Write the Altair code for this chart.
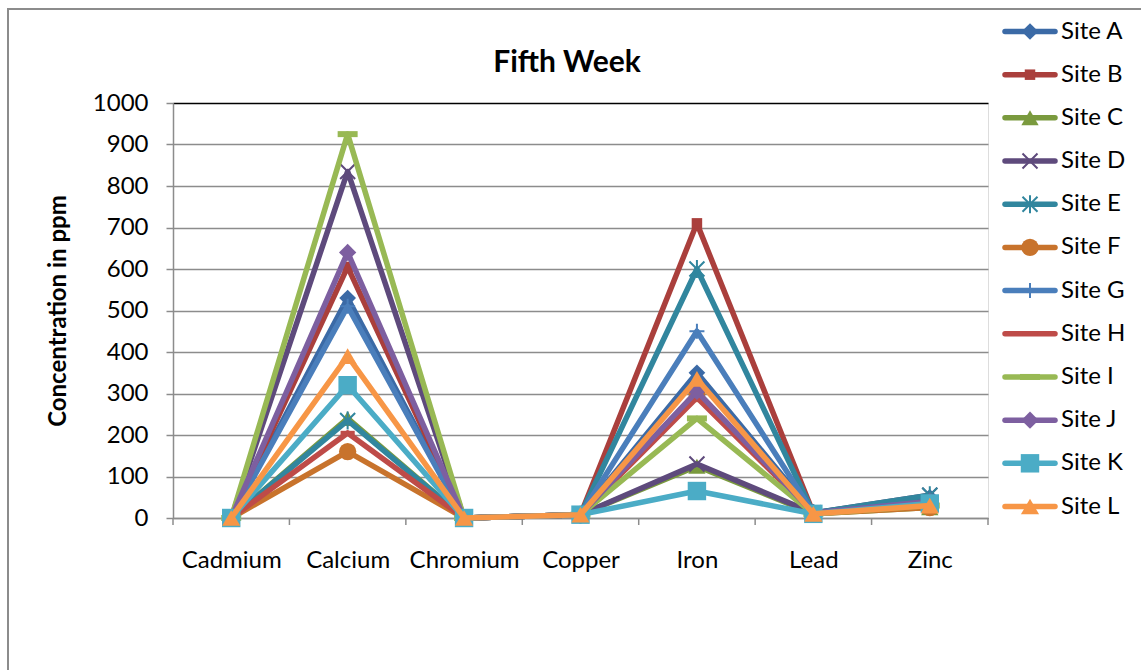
import altair as alt
import pandas as pd

# Categories and series (concentration in ppm, fifth week)
metals = ["Cadmium", "Calcium", "Chromium", "Copper", "Iron", "Lead", "Zinc"]
sites = ["Site A", "Site B", "Site C", "Site D", "Site E", "Site F",
         "Site G", "Site H", "Site I", "Site J", "Site K", "Site L"]

site_a = [0, 530, 0, 8, 350, 12, 50]
site_b = [0, 605, 0, 8, 710, 12, 30]
site_c = [0, 240, 0, 8, 125, 10, 25]
site_d = [0, 835, 0, 8, 130, 12, 55]
site_e = [0, 235, 0, 8, 600, 12, 55]
site_f = [0, 160, 0, 8, 300, 10, 25]
site_g = [0, 510, 0, 8, 450, 12, 40]
site_h = [0, 205, 0, 8, 290, 12, 30]
site_i = [0, 925, 0, 8, 240, 10, 30]
site_j = [0, 640, 0, 8, 305, 12, 40]
site_k = [0, 320, 0, 8, 65, 10, 35]
site_l = [0, 390, 0, 8, 335, 10, 30]

y_ticks = list(range(0, 1001, 100))
chart_title = "Fifth Week"

series = [site_a, site_b, site_c, site_d, site_e, site_f,
          site_g, site_h, site_i, site_j, site_k, site_l]

colors = ["#3B6AA6", "#AA3F3C", "#7A9A3E", "#5E4A7C", "#31869E", "#C8732C",
          "#4A7EBB", "#BE4B48", "#98B954", "#7D5FA0", "#4BACC6", "#F79646"]

X_PATH = "M-1,-1L1,1M-1,1L1,-1"
STAR_PATH = "M-1,-1L1,1M-1,1L1,-1M0,-1.2L0,1.2"
PLUS_PATH = "M-1,0L1,0M0,-1L0,1"
DASH_PATH = "M-1,-0.3L1,-0.3L1,0.3L-1,0.3Z"

# marker: (shape, size, filled)
markers = [
    ("diamond", 280, True),
    ("square", 110, True),
    ("triangle-up", 300, True),
    (X_PATH, 225, False),
    (STAR_PATH, 225, False),
    ("circle", 300, True),
    (PLUS_PATH, 225, False),
    (DASH_PATH, 200, True),
    (DASH_PATH, 400, True),
    ("diamond", 300, True),
    ("square", 340, True),
    ("triangle-up", 330, True),
]

FONT = "Lato"
GRAY = "#8c8c8c"

rows = []
for s, vals in zip(sites, series):
    for i, (m, v) in enumerate(zip(metals, vals)):
        rows.append({"site": s, "idx": i, "metal": m, "ppm": v})
df = pd.DataFrame(rows)

label_expr = "[" + ",".join(f"'{m}'" for m in metals) + "][datum.value]"

x_enc = alt.X(
    "idx:Q",
    scale=alt.Scale(domain=[-0.5, len(metals) - 0.5], nice=False, zero=False),
    axis=alt.Axis(values=list(range(len(metals))), labelExpr=label_expr,
                  ticks=False, grid=False, domainColor=GRAY, domainWidth=1.5,
                  labelFont=FONT, labelFontSize=24, labelColor="black",
                  labelPadding=30, title=None),
)
y_enc = alt.Y(
    "ppm:Q",
    scale=alt.Scale(domain=[0, 1000], nice=False),
    axis=alt.Axis(values=y_ticks, format="d", grid=True,
                  gridColor=alt.condition("datum.value == 1000",
                                          alt.value("black"), alt.value(GRAY)),
                  gridWidth=1.5, domainColor=GRAY, domainWidth=1.5,
                  tickColor=GRAY, tickWidth=1.5, tickSize=7,
                  labelFont=FONT, labelFontSize=24, labelColor="black",
                  labelPadding=18, title="Concentration in ppm",
                  titleFont=FONT, titleFontSize=24, titleFontWeight="bold",
                  titleColor="black", titlePadding=22),
)
color_enc = alt.Color("site:N", scale=alt.Scale(domain=sites, range=colors),
                      legend=None)

# category tick marks sit between the categories
bounds = pd.DataFrame({"idx": [i - 0.5 for i in range(len(metals) + 1)]})
tick_layer = alt.Chart(bounds).mark_rule(color=GRAY, strokeWidth=1.5).encode(
    x=alt.X("idx:Q"), y=alt.value(415), y2=alt.value(422))

plot_layers = [tick_layer]
for s, (shape, size, filled) in zip(sites, markers):
    sub = alt.Chart(df).transform_filter(alt.datum.site == s)
    line = sub.mark_line(strokeWidth=5.5, strokeJoin="round", strokeCap="round").encode(
        x=x_enc, y=y_enc, color=color_enc)
    if filled:
        pt = sub.mark_point(shape=shape, size=size, filled=True, opacity=1)
    else:
        pt = sub.mark_point(shape=shape, size=size, filled=False, opacity=1,
                            strokeWidth=2)
    plot_layers.append(line)
    plot_layers.append(pt.encode(x=x_enc, y=y_enc, color=color_enc))

plot = alt.layer(*plot_layers)

# legend on the right, one row per site
leg_df = pd.DataFrame({"site": sites})
leg_y = alt.Y("site:N", scale=alt.Scale(type="point", domain=sites,
                                          range=[-71.5, 403.5], padding=0),
              axis=None)
leg_layers = [
    alt.Chart(leg_df).mark_rule(strokeWidth=5.5, strokeCap="round").encode(
        x=alt.value(832), x2=alt.value(882), y=leg_y, color=color_enc),
]
for s, (shape, size, filled) in zip(sites, markers):
    sub = alt.Chart(leg_df).transform_filter(alt.datum.site == s)
    if filled:
        pt = sub.mark_point(shape=shape, size=size, filled=True, opacity=1)
    else:
        pt = sub.mark_point(shape=shape, size=size, filled=False, opacity=1,
                            strokeWidth=2)
    leg_layers.append(pt.encode(x=alt.value(857), y=leg_y, color=color_enc))
leg_layers.append(
    alt.Chart(leg_df).mark_text(align="left", baseline="middle", font=FONT,
                                fontSize=24, color="black").encode(
        x=alt.value(888), y=leg_y, text="site:N"))

frame = alt.Chart(alt.Data(values=[{}])).mark_rect(
    fillOpacity=0, stroke=GRAY, strokeWidth=2).encode(
    x=alt.value(-165), x2=alt.value(1400), y=alt.value(-94), y2=alt.value(900))

title_mark = alt.Chart(alt.Data(values=[{"t": chart_title}])).mark_text(
    font=FONT, fontSize=30, fontWeight="bold", color="black",
    align="center", baseline="alphabetic").encode(
    x=alt.value(394), y=alt.value(-31), text="t:N")

legend = alt.layer(frame, title_mark, *leg_layers)

chart = alt.layer(plot, legend).resolve_scale(y="independent").properties(
    width=815, height=415,
    padding={"left": 173, "top": 103, "right": 153, "bottom": 152},
    autosize=alt.AutoSizeParams(type="none"),
).configure_view(stroke="black", strokeWidth=1.5).configure(background="white")

chart.save("out.html", embed_options={"renderer": "svg", "actions": False})
